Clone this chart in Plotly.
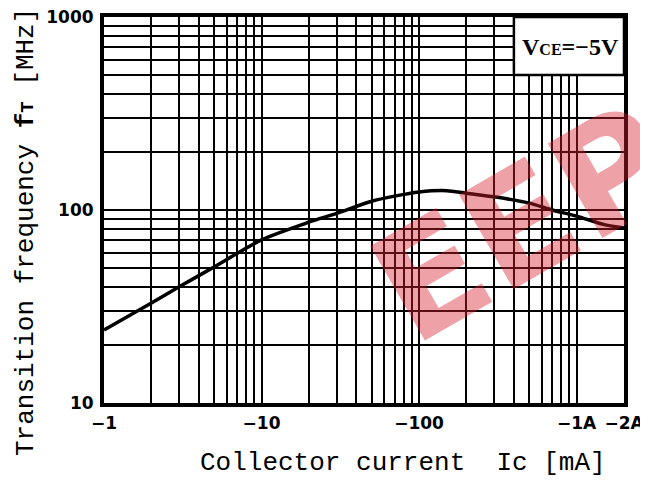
import math
import plotly.graph_objects as go

# ---- data ----
ic_ma = [1, 2, 3, 5, 10, 20, 30, 50, 70, 100, 150, 200, 300, 500, 700, 1000, 1500, 2000]
ft_mhz = [23.9, 33, 40, 50.7, 70, 86.5, 96, 111, 118, 124, 126, 122, 117, 108.5, 100, 93, 84, 80.7]

x_grid_vals = [1, 2, 3, 4, 5, 6, 7, 8, 9,
               10, 20, 30, 40, 50, 60, 70, 80, 90,
               100, 200, 300, 400, 500, 600, 700, 800, 900,
               1000, 2000]
x_labels = {1: "\u22121", 10: "\u221210", 100: "\u2212100", 1000: "\u22121A", 2000: "\u22122A"}

y_grid_vals = [10, 20, 30, 40, 50, 60, 70, 80, 90,
               100, 200, 300, 400, 500, 600, 700, 800, 900, 1000]
y_labels = {10: "10", 100: "100", 1000: "1000"}

x_max = 2000
legend_box_x = (400, 2000)
legend_box_y = (500, 1000)

fig = go.Figure()
fig.add_trace(go.Scatter(
    x=ic_ma, y=ft_mhz, mode="lines",
    line=dict(color="black", width=3.5, shape="spline", smoothing=0.8),
    showlegend=False, hoverinfo="skip",
))

tickfont = dict(family="DejaVu Sans", size=17, color="black", weight="bold")
axis_common = dict(
    type="log", showgrid=True, gridcolor="black", gridwidth=2,
    showline=True, linecolor="black", linewidth=4, mirror=True,
    ticks="", zeroline=False, tickfont=tickfont, automargin=False,
    ticklabeloverflow="allow",
)

fig.update_xaxes(
    range=[0, math.log10(x_max)],
    tickvals=x_grid_vals,
    ticktext=[x_labels.get(v, "") for v in x_grid_vals],
    ticklabelstandoff=2,
    **axis_common,
)
fig.update_yaxes(
    range=[1, 3],
    tickvals=y_grid_vals,
    ticktext=[y_labels.get(v, "") for v in y_grid_vals],
    ticklabelstandoff=3,
    **axis_common,
)

lx = math.log10(x_max)
# legend box (paper coordinates derived from axis values)
fig.add_shape(
    type="rect", xref="paper", yref="paper",
    x0=math.log10(legend_box_x[0]) / lx, x1=1.0,
    y0=(math.log10(legend_box_y[0]) - 1) / 2, y1=1.0,
    fillcolor="white", line=dict(color="black", width=2.5), layer="above",
)
fig.add_annotation(
    xref="paper", yref="paper", x=0.898, y=0.922,
    xanchor="center", yanchor="middle",
    text="V<span style='font-size:16px'>CE</span>=\u22125V",
    showarrow=False,
    font=dict(family="Liberation Serif", size=24, color="black", weight="bold"),
)

# axis titles
fig.add_annotation(
    xref="paper", yref="paper", x=-0.1827, y=0.443, textangle=-90,
    xanchor="left", yanchor="middle",
    text="Transition frequency <b>f<span style='font-size:19px'>T</span></b> [MHz]",
    showarrow=False,
    font=dict(family="Liberation Mono", size=26, color="black"),
)
fig.add_annotation(
    xref="paper", yref="paper", x=0.575, y=-0.155,
    xanchor="center", yanchor="middle",
    text="Collector current\u00a0\u00a0Ic [mA]",
    showarrow=False,
    font=dict(family="Liberation Mono", size=26, color="black"),
)

# distributor watermark
fig.add_annotation(
    xref="paper", yref="paper", x=0.806, y=0.464, textangle=-30,
    xanchor="center", yanchor="middle",
    text="EEP", showarrow=False,
    font=dict(family="DejaVu Sans", size=150,
              color="rgba(215,30,45,0.42)", weight="bold"),
)

# page body has an 8px margin: size/margins compensate so the plot sits as in the reference
fig.update_layout(
    width=640, height=476, autosize=False,
    margin=dict(l=96, r=24, t=9, b=81),
    plot_bgcolor="white", paper_bgcolor="white",
)

fig.write_html("out.html")
